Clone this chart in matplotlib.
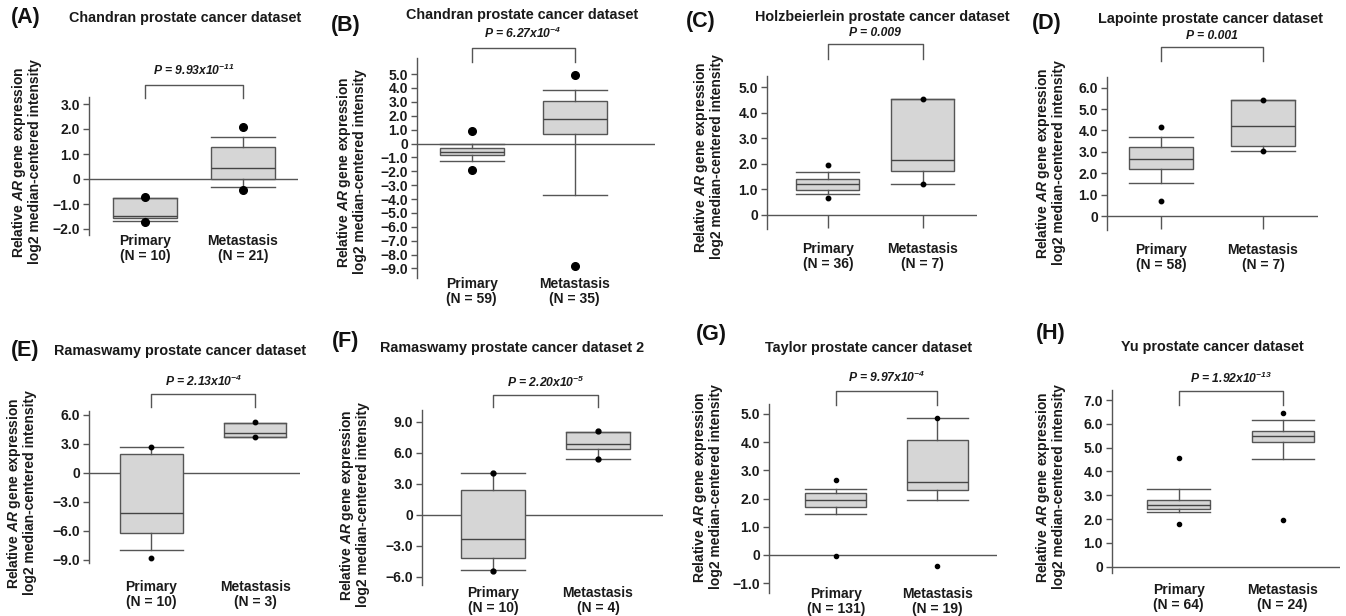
import matplotlib
matplotlib.use("Agg")
import matplotlib.pyplot as plt

# ── Figure size in pixels ──
W, H = 1346, 616
DPI = 100

plt.rcParams.update({
    "font.family": ["Liberation Sans", "DejaVu Sans"],
    "font.weight": "bold",
    "mathtext.fontset": "custom",
    "mathtext.rm": "Liberation Sans:bold:italic",
    "mathtext.it": "Liberation Sans:bold:italic",
    "mathtext.bf": "Liberation Sans:bold",
    "axes.unicode_minus": True,
})

# ── Data ──
LETTERS = ["(A)", "(B)", "(C)", "(D)", "(E)", "(F)", "(G)", "(H)"]
TITLES = [
    "Chandran prostate cancer dataset",
    "Chandran prostate cancer dataset",
    "Holzbeierlein prostate cancer dataset",
    "Lapointe prostate cancer dataset",
    "Ramaswamy prostate cancer dataset",
    "Ramaswamy prostate cancer dataset 2",
    "Taylor prostate cancer dataset",
    "Yu prostate cancer dataset",
]
P_TEXT = [
    r"P = 9.93x$10^{-11}$",
    r"P = 6.27x$10^{-4}$",
    "P = 0.009",
    "P = 0.001",
    r"P = 2.13x$10^{-4}$",
    r"P = 2.20x$10^{-5}$",
    r"P = 9.97x$10^{-4}$",
    r"P = 1.92x$10^{-13}$",
]
GROUPS = ["Primary", "Metastasis"]
N_PRIMARY = [10, 59, 36, 58, 10, 10, 131, 64]
N_METAST = [21, 35, 7, 7, 3, 4, 19, 24]

# (whislo, q1, median, q3, whishi)
PRIMARY_BOX = [
    (-1.68, -1.55, -1.47, -0.75, -0.75),
    (-1.25, -0.86, -0.60, -0.34, -0.05),
    (0.82, 0.98, 1.20, 1.41, 1.67),
    (1.53, 2.20, 2.67, 3.22, 3.70),
    (-8.00, -6.28, -4.20, 1.90, 2.66),
    (-5.30, -4.13, -2.35, 2.42, 4.03),
    (1.44, 1.71, 1.93, 2.19, 2.33),
    (2.28, 2.42, 2.59, 2.80, 3.27),
]
METAST_BOX = [
    (-0.33, 0.00, 0.43, 1.29, 1.69),
    (-3.73, 0.72, 1.73, 3.08, 3.85),
    (1.23, 1.72, 2.15, 4.53, 4.53),
    (3.05, 3.29, 4.19, 5.44, 5.44),
    (3.72, 3.72, 4.07, 5.14, 5.14),
    (5.42, 6.39, 6.84, 8.03, 8.03),
    (1.96, 2.29, 2.57, 4.07, 4.85),
    (4.51, 5.22, 5.49, 5.70, 6.15),
]
# max / min points
PRIMARY_DOTS = [
    [-0.73, -1.73], [0.88, -1.92], [1.97, 0.67], [4.16, 0.69],
    [2.66, -8.86], [4.03, -5.40], [2.64, -0.04], [4.55, 1.78],
]
METAST_DOTS = [
    [2.09, -0.44], [4.93, -8.82], [4.55, 1.20], [5.44, 3.05],
    [5.28, 3.65], [8.10, 5.42], [4.85, -0.38], [6.45, 1.96],
]
YTICKS = [
    [-2, -1, 0, 1, 2, 3],
    list(range(-9, 6)),
    [0, 1, 2, 3, 4, 5],
    [0, 1, 2, 3, 4, 5, 6],
    [-9, -6, -3, 0, 3, 6],
    [-6, -3, 0, 3, 6, 9],
    [-1, 0, 1, 2, 3, 4, 5],
    [0, 1, 2, 3, 4, 5, 6, 7],
]

# ── Layout (pixels in the 1346x616 canvas) ──
AX_PX = [  # left, right, top, bottom
    (89, 298, 97, 235), (417, 655, 58, 278), (767, 977, 76, 229), (1107, 1318, 77, 230),
    (89, 300, 411, 563), (422, 663, 410, 585), (769, 997, 404, 593), (1112, 1340, 390, 573),
]
YLIMS = [(-2.24, 3.28), (-9.69, 6.16), (-0.55, 5.45), (-0.65, 6.5),
         (-9.34, 6.38), (-6.78, 10.16), (-1.35, 5.35), (-0.26, 7.42)]
XLIMS = [(0.43, 2.56), (0.47, 2.78), (0.36, 2.57), (0.47, 2.54),
         (0.40, 2.43), (0.32, 2.62), (0.34, 2.59), (0.36, 2.55)]
BOX_W = [0.65, 0.62, 0.66, 0.62, 0.60, 0.61, 0.60, 0.60]
DOT_MS = [5.5, 5.5, 3.2, 3.2, 3.2, 3.5, 3.0, 3.0]
XTICK_DOWN = [False, False, True, True, False, False, False, False]
XLABEL_PAD = [-1, -1, 10, 10, 12, 0.5, -4.5, 7]
TITLE_XY = [(185, 18), (522, 15), (882, 17), (1210, 19),
            (180, 351), (512, 348), (869, 348), (1212, 347)]
LETTER_XY = [(11, 18), (331, 25), (686, 22), (1032, 23),
             (11, 350), (332, 342), (696, 335), (1036, 333)]
YLABEL_XY = [(26, 162), (351, 172), (708, 157), (1050, 163),
             (21, 493), (354, 505), (707, 487), (1050, 487)]
BRACKET_PX = [(85, 98), (48, 62), (44, 59), (47, 61),
              (394, 407), (395, 407), (391, 405), (391, 405)]  # top, leg bottom
PTEXT_Y = [70, 33, 33, 36, 381, 382, 377, 378]

EDGE = "#555555"
FILL = "#d6d6d6"
TXT = "#1a1a1a"
YLABEL = "Relative $AR$ gene expression\nlog2 median-centered intensity"


def fx(x):
    return x / W


def fy(y):
    return 1 - y / H


def fmt_tick(v):
    return "0" if v == 0 else f"{v:.1f}".replace("-", "\u2212")


fig = plt.figure(figsize=(W / DPI, H / DPI), dpi=DPI)

for i in range(8):
    l, r, t, b = AX_PX[i]
    ax = fig.add_axes([fx(l), fy(b), (r - l) / W, (b - t) / H])

    stats = []
    for box, dots, grp, n in [(PRIMARY_BOX[i], PRIMARY_DOTS[i], GROUPS[0], N_PRIMARY[i]),
                              (METAST_BOX[i], METAST_DOTS[i], GROUPS[1], N_METAST[i])]:
        lo, q1, med, q3, hi = box
        stats.append(dict(whislo=lo, q1=q1, med=med, q3=q3, whishi=hi,
                          fliers=dots, label=f"{grp}\n(N = {n})"))

    ax.axhline(0, color=EDGE, lw=1.0, zorder=1.5)
    ax.bxp(stats, positions=[1, 2], widths=BOX_W[i], capwidths=BOX_W[i],
           patch_artist=True, manage_ticks=False,
           boxprops=dict(facecolor=FILL, edgecolor=EDGE, lw=1.0),
           medianprops=dict(color="#444444", lw=1.0),
           whiskerprops=dict(color=EDGE, lw=1.0),
           capprops=dict(color=EDGE, lw=1.0),
           flierprops=dict(marker="o", markerfacecolor="black", markeredgecolor="black",
                           markersize=DOT_MS[i], linestyle="none"))

    ax.set_xlim(*XLIMS[i])
    ax.set_ylim(*YLIMS[i])
    ax.set_yticks(YTICKS[i], [fmt_tick(v) for v in YTICKS[i]])
    ax.set_xticks([1, 2], [s["label"] for s in stats])

    for side in ["top", "right", "bottom"]:
        ax.spines[side].set_visible(False)
    ax.spines["left"].set_color(EDGE)
    ax.spines["left"].set_linewidth(1.0)
    ax.tick_params(axis="y", direction="out", length=4.5, width=1.0, color=EDGE,
                   labelsize=10, labelcolor=TXT, pad=2)
    if XTICK_DOWN[i]:
        ax.spines["bottom"].set_position(("data", 0))
        ax.tick_params(axis="x", direction="out", length=9.4, width=1.0, color=EDGE,
                       labelsize=10, labelcolor=TXT, pad=XLABEL_PAD[i])
    else:
        ax.tick_params(axis="x", length=0, labelsize=10, labelcolor=TXT, pad=XLABEL_PAD[i])
    for lab in ax.get_xticklabels():
        lab.set_linespacing(1.1)

    # significance bracket + P value above the axes
    span = b - t
    yt = (b - BRACKET_PX[i][0]) / span
    yb = (b - BRACKET_PX[i][1]) / span
    tr = ax.get_xaxis_transform()
    ax.plot([1, 1, 2, 2], [yb, yt, yt, yb], color=EDGE, lw=1.0,
            transform=tr, clip_on=False)
    ax.text(1.5, (b - PTEXT_Y[i]) / span, P_TEXT[i], transform=tr,
            ha="center", va="center", fontsize=8.7, fontstyle="italic",
            fontweight="bold", color=TXT)

    fig.text(fx(TITLE_XY[i][0]), fy(TITLE_XY[i][1]), TITLES[i], ha="center",
             va="center", fontsize=10.4, fontweight="bold", color=TXT)
    fig.text(fx(LETTER_XY[i][0]), fy(LETTER_XY[i][1]), LETTERS[i], ha="left",
             va="center", fontsize=15.5, fontweight="bold", color="#111111")
    fig.text(fx(YLABEL_XY[i][0]), fy(YLABEL_XY[i][1]), YLABEL, rotation=90,
             ha="center", va="center", multialignment="center", linespacing=1.05,
             fontsize=10, fontweight="bold", color=TXT)

fig.savefig("out.png", dpi=DPI)
